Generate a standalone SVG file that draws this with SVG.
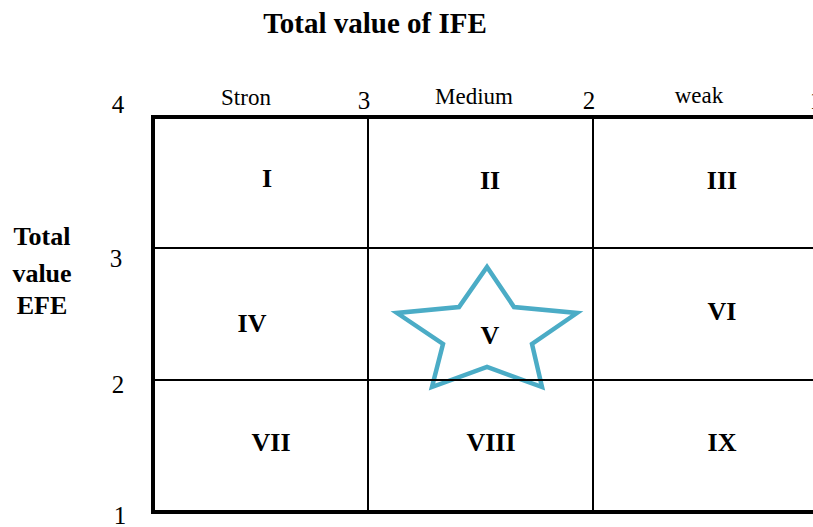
<svg xmlns="http://www.w3.org/2000/svg" width="813" height="527" viewBox="0 0 813 527">
<style>
text{font-family:"Liberation Serif","Times New Roman",Times,"DejaVu Serif",serif;fill:#000}
.b{font-weight:bold}
.rn{font-weight:bold;font-size:26px;text-anchor:middle}
.thin{stroke:#000;stroke-width:2}
.thick{stroke:#000;stroke-width:4}
</style>
<rect width="813" height="527" fill="#fff"/>
<text class="b" x="375" y="33" font-size="29" text-anchor="middle">Total value of IFE</text>
<g id="ylabel" font-size="26" text-anchor="middle">
<text class="b" x="42" y="245">Total</text>
<text class="b" x="42" y="282">value</text>
<text class="b" x="42" y="314">EFE</text>
</g>
<g id="ticks" font-size="25" text-anchor="middle">
<text x="118" y="113">4</text>
<text x="364" y="109">3</text>
<text x="589" y="109">2</text>
<text x="816" y="109">1</text>
<text x="116" y="267">3</text>
<text x="118" y="393">2</text>
<text x="120" y="524">1</text>
</g>
<g id="colLabels" font-size="23" text-anchor="middle">
<text x="246" y="105">Stron</text>
<text x="474" y="104">Medium</text>
<text x="699" y="103">weak</text>
</g>
<g id="star">
<polygon points="487,267 514,307 577,313 532,344 542,387 487,367 432,387 443,344 397,313 459,307" fill="none" stroke="#4bacc6" stroke-width="4.5" stroke-linejoin="miter"/>
</g>
<g id="grid">
<line class="thin" x1="368" y1="118" x2="368" y2="511"/>
<line class="thin" x1="593" y1="118" x2="593" y2="511"/>
<line class="thin" x1="153" y1="248" x2="813" y2="248"/>
<line class="thin" x1="153" y1="380" x2="813" y2="380"/>
<line class="thick" x1="153" y1="117" x2="813" y2="117"/>
<line class="thick" x1="153" y1="512" x2="813" y2="512"/>
<line class="thick" x1="153" y1="115" x2="153" y2="514"/>
</g>
<g id="cell-I"><text class="rn" x="267" y="187">I</text></g>
<g id="cell-II"><text class="rn" x="490" y="189">II</text></g>
<g id="cell-III"><text class="rn" x="722" y="189">III</text></g>
<g id="cell-IV"><text class="rn" x="252" y="332">IV</text></g>
<g id="cell-V"><text class="rn" x="490" y="344">V</text></g>
<g id="cell-VI"><text class="rn" x="722" y="320">VI</text></g>
<g id="cell-VII"><text class="rn" x="271" y="451">VII</text></g>
<g id="cell-VIII"><text class="rn" x="491" y="451">VIII</text></g>
<g id="cell-IX"><text class="rn" x="722" y="451">IX</text></g>
</svg>
